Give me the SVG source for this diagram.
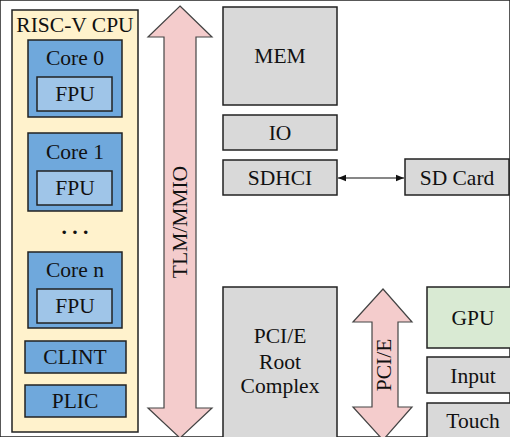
<svg xmlns="http://www.w3.org/2000/svg" width="510" height="437" viewBox="0 0 510 437">
<style>
rect{stroke:#222;stroke-width:1.5}
.cpu{fill:#fff2cc}
.core{fill:#6fa8dc}
.fpu{fill:#9fc5e8}
.gray{fill:#d9d9d9}
.green{fill:#d9ead3}
.arrow{fill:#f4cccc;stroke:#444;stroke-width:1.2}
text{font-family:'Liberation Serif','Times New Roman',Tinos,'DejaVu Serif',serif;font-size:21.5px;fill:#111;text-anchor:middle}
</style>
<defs>
<marker id="ah" viewBox="0 0 10 10" refX="10" refY="5" markerWidth="7" markerHeight="7" orient="auto-start-reverse"><path d="M0,1 L10,5 L0,9 z" fill="#111"/></marker>
</defs>
<rect width="510" height="437" fill="#fff" stroke="none"/>
<g id="cpu">
<rect class="cpu" x="12" y="10" width="126" height="422"/>
<text x="75" y="32">RISC-V CPU</text>
</g>
<g id="core0">
<rect class="core" x="28" y="40" width="94" height="77"/>
<text x="75" y="65">Core 0</text>
<rect class="fpu" x="37" y="77" width="75" height="34"/>
<text x="75" y="101">FPU</text>
</g>
<g id="core1">
<rect class="core" x="28" y="133" width="94" height="78"/>
<text x="75" y="159">Core 1</text>
<rect class="fpu" x="37" y="171" width="75" height="34"/>
<text x="75" y="195">FPU</text>
</g>
<g id="dots"><text x="75" y="234" style="font-weight:bold">. . .</text></g>
<g id="coren">
<rect class="core" x="28" y="252" width="94" height="76"/>
<text x="75" y="277">Core n</text>
<rect class="fpu" x="37" y="289" width="75" height="34"/>
<text x="75" y="313">FPU</text>
</g>
<g id="clint">
<rect class="core" x="25" y="341" width="101" height="32"/>
<text x="75" y="364">CLINT</text>
</g>
<g id="plic">
<rect class="core" x="25" y="385" width="101" height="32"/>
<text x="75" y="408">PLIC</text>
</g>
<g id="tlm">
<path class="arrow" d="M180,6 L212,37 L196,37 L196,408 L212,408 L180,438 L148,408 L164,408 L164,37 L148,37 Z"/>
<text transform="translate(187,222) rotate(-90)">TLM/MMIO</text>
</g>
<g id="mem">
<rect class="gray" x="223" y="7" width="114" height="98"/>
<text x="280" y="63">MEM</text>
</g>
<g id="io">
<rect class="gray" x="223" y="115" width="114" height="35"/>
<text x="280" y="140">IO</text>
</g>
<g id="sdhci">
<rect class="gray" x="223" y="160" width="114" height="35"/>
<text x="280" y="185">SDHCI</text>
</g>
<g id="sdcard">
<rect class="gray" x="405" y="159" width="104" height="36"/>
<text x="457" y="185">SD Card</text>
</g>
<g id="pcie-root">
<rect class="gray" x="223" y="287" width="114" height="160"/>
<text x="280" y="343">PCI/E</text>
<text x="280" y="369">Root</text>
<text x="280" y="393">Complex</text>
</g>
<g id="pcie">
<path class="arrow" d="M383,289 L412,322 L398,322 L398,407 L412,407 L383,440 L353,407 L372,407 L372,322 L353,322 Z"/>
<text transform="translate(391,365) rotate(-90)">PCI/E</text>
</g>
<g id="gpu">
<rect class="green" x="427" y="287" width="90" height="61"/>
<text x="473" y="325">GPU</text>
</g>
<g id="input">
<rect class="gray" x="427" y="357" width="90" height="36"/>
<text x="473" y="383">Input</text>
</g>
<g id="touch">
<rect class="gray" x="427" y="403" width="90" height="44"/>
<text x="473" y="428">Touch</text>
</g>
<g id="connectors">
<line x1="338" y1="178" x2="404" y2="178" stroke="#111" stroke-width="1.2" marker-start="url(#ah)" marker-end="url(#ah)"/>
</g>
</svg>
